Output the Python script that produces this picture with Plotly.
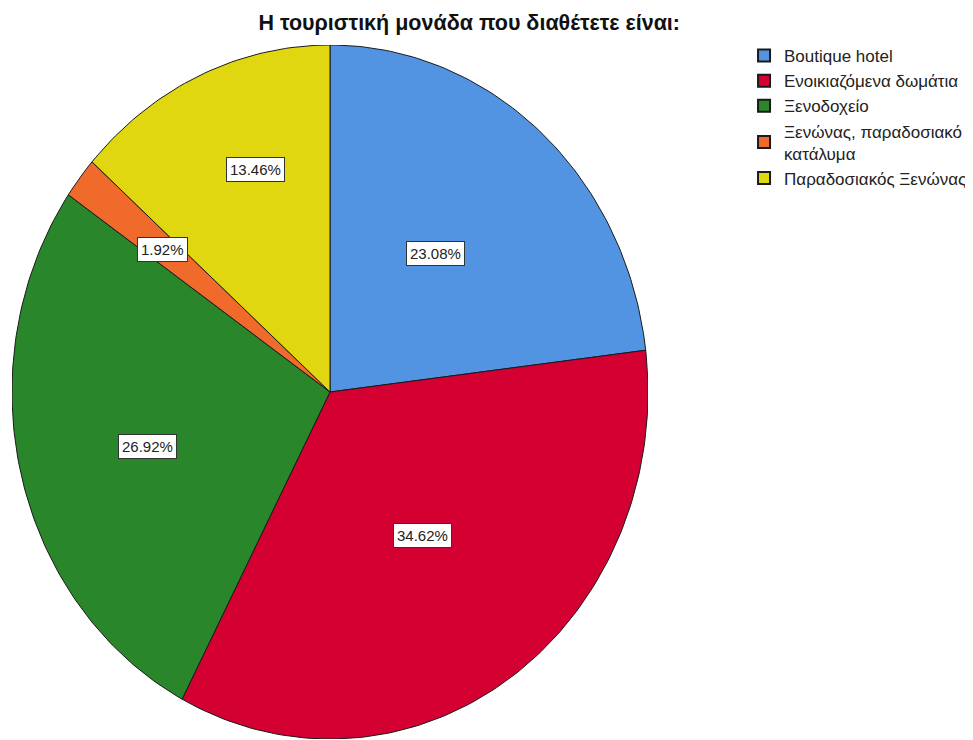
import math
import plotly.graph_objects as go

# ---- data ----
categories = ["Boutique hotel", "Ενοικιαζόμενα δωμάτια", "Ξενοδοχείο",
              "Ξενώνας, παραδοσιακό κατάλυμα", "Παραδοσιακός Ξενώνας"]
legend_labels = ["Boutique hotel", "Ενοικιαζόμενα δωμάτια", "Ξενοδοχείο",
                 "Ξενώνας, παραδοσιακό<br>κατάλυμα", "Παραδοσιακός Ξενώνας"]
percentages = [23.08, 34.62, 26.92, 1.92, 13.46]
title_text = "Η τουριστική μονάδα που διαθέτετε είναι:"

# ---- style ----
colors = ["#5294e2", "#d40032", "#2a862b", "#f06a2b", "#e1d711"]
label_radius = [0.52, 0.507, 0.594, 0.668, 0.681]
label_angle_shift_deg = [-1.7, -0.5, -1.6, -0.3, 4.2]
FONT = "Liberation Sans, Arial, sans-serif"

fig = go.Figure()
total = sum(percentages)
start = 0.0
annotations = []
for name, pct, col, lr, sh in zip(categories, percentages, colors,
                                  label_radius, label_angle_shift_deg):
    sweep = pct / total * 2 * math.pi
    n = max(4, int(sweep / (2 * math.pi) * 360))
    xs, ys = [0.0], [0.0]
    for k in range(n + 1):
        t = start + sweep * k / n
        xs.append(math.sin(t))
        ys.append(math.cos(t))
    xs.append(0.0)
    ys.append(0.0)
    fig.add_trace(go.Scatter(x=xs, y=ys, mode="lines", fill="toself",
                             fillcolor=col, line=dict(color="#1a1a1a", width=1),
                             showlegend=False, hoverinfo="skip"))
    mid = start + sweep / 2 + math.radians(sh)
    annotations.append(dict(x=lr * math.sin(mid), y=lr * math.cos(mid),
                            xref="x", yref="y", showarrow=False,
                            text=f"{pct:.2f}%", bgcolor="white",
                            bordercolor="#333333", borderwidth=1, borderpad=3,
                            font=dict(family=FONT, size=15, color="#222222")))
    start += sweep

for lab, col in zip(legend_labels, colors):
    fig.add_trace(go.Scatter(x=[None], y=[None], mode="markers", name=lab,
                             marker=dict(symbol="square", size=15, color=col,
                                         line=dict(color="#1a1a1a", width=1))))

fig.update_layout(
    width=973, height=740,
    margin=dict(l=4, r=333, t=37, b=9),
    paper_bgcolor="white", plot_bgcolor="white",
    title=dict(text=f"<b>{title_text}</b>", x=0.474, xanchor="center",
               y=0.981, yanchor="middle",
               font=dict(family=FONT, size=21.5, color="#111111")),
    xaxis=dict(range=[-1, 1], visible=False, fixedrange=True),
    yaxis=dict(range=[-1, 1], visible=False, fixedrange=True),
    legend=dict(x=1.151, y=1.01, xanchor="left", yanchor="top",
                font=dict(family=FONT, size=17, color="#222222"),
                itemsizing="constant", tracegroupgap=0,
                bgcolor="rgba(0,0,0,0)"),
    annotations=annotations,
)

fig.write_html("out.html")
